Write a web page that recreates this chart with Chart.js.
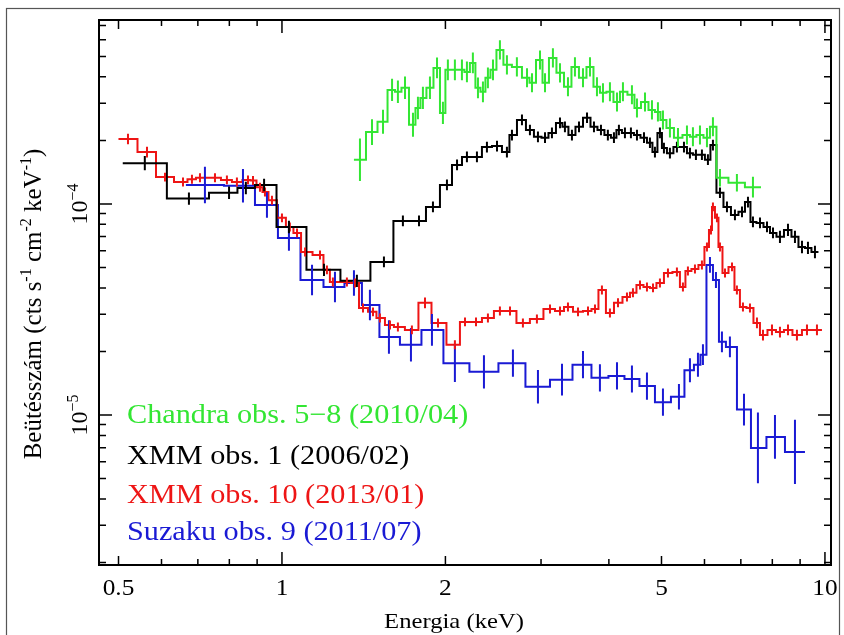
<!DOCTYPE html>
<html>
<head>
<meta charset="utf-8">
<script src="https://cdn.jsdelivr.net/npm/chart.js@4.4.1/dist/chart.umd.min.js"></script>
<style>
  html, body { margin: 0; padding: 0; background: #fff; }
  #wrap { width: 844px; height: 635px; position: relative; }
</style>
</head>
<body>
<div id="wrap"><canvas id="spec" width="844" height="635"></canvas></div>
<script>
// energies in keV, fluxes in cts s-1 cm-2 keV-1, errors as relative half widths
const chandraE = [1.392, 1.465, 1.535, 1.595, 1.635, 1.685, 1.743, 1.780, 1.818, 1.873,
  1.930, 1.979, 2.021, 2.082, 2.145, 2.191, 2.247, 2.296, 2.345, 2.395,
  2.447, 2.520, 2.596, 2.708, 2.827, 2.887, 2.987, 3.051, 3.155, 3.251,
  3.363, 3.464, 3.584, 3.692, 3.803, 3.901, 4.018, 4.140, 4.246, 4.411,
  4.506, 4.662, 4.802, 4.925, 5.031, 5.182, 5.362, 5.570, 5.713, 5.886,
  6.063, 6.219, 6.407, 6.884, 7.369];
const chandraF = [1.62e-4, 2.19e-4, 2.45e-4, 3.47e-4, 3.40e-4, 3.55e-4, 2.37e-4, 2.85e-4, 3.18e-4, 3.55e-4,
  4.41e-4, 2.70e-4, 4.32e-4, 4.32e-4, 4.32e-4, 4.22e-4, 4.66e-4, 3.55e-4, 3.40e-4, 3.96e-4,
  4.32e-4, 5.37e-4, 4.56e-4, 4.46e-4, 3.96e-4, 3.75e-4, 4.81e-4, 3.75e-4, 4.92e-4, 4.18e-4,
  3.59e-4, 4.46e-4, 3.96e-4, 4.46e-4, 3.59e-4, 3.36e-4, 3.40e-4, 3.04e-4, 3.40e-4, 3.29e-4,
  2.85e-4, 3.04e-4, 2.79e-4, 2.73e-4, 2.50e-4, 2.29e-4, 2.06e-4, 2.12e-4, 2.08e-4, 2.12e-4,
  2.06e-4, 2.32e-4, 1.33e-4, 1.26e-4, 1.20e-4];
const chandraErr = [0.26, 0.15, 0.14, 0.13, 0.13, 0.13, 0.14, 0.13, 0.13, 0.13,
  0.12, 0.13, 0.12, 0.12, 0.12, 0.12, 0.12, 0.12, 0.12, 0.12,
  0.12, 0.11, 0.11, 0.11, 0.11, 0.11, 0.11, 0.11, 0.11, 0.11,
  0.11, 0.11, 0.11, 0.11, 0.11, 0.11, 0.11, 0.11, 0.11, 0.11,
  0.11, 0.11, 0.11, 0.11, 0.11, 0.11, 0.11, 0.11, 0.11, 0.11,
  0.11, 0.11, 0.10, 0.10, 0.12];

const xmm1E = [0.559, 0.674, 0.799, 0.858, 0.927, 1.030, 1.195, 1.374, 1.541, 1.670,
  1.788, 1.897, 2.013, 2.101, 2.191, 2.286, 2.385, 2.489, 2.596, 2.652,
  2.767, 2.862, 2.961, 3.051, 3.142, 3.251, 3.320, 3.420, 3.524, 3.646,
  3.755, 3.868, 3.983, 4.087, 4.174, 4.282, 4.392, 4.506, 4.642, 4.761,
  4.863, 4.967, 5.052, 5.182, 5.338, 5.500, 5.641, 5.786, 5.935, 6.088,
  6.219, 6.407, 6.600, 6.827, 7.034, 7.215, 7.369, 7.592, 7.821, 8.022,
  8.263, 8.549, 8.806, 9.072, 9.305, 9.585];
const xmm1F = [1.56e-4, 1.06e-4, 1.13e-4, 1.19e-4, 1.23e-4, 7.78e-5, 4.87e-5, 4.32e-5, 5.31e-5, 8.31e-5,
  8.31e-5, 9.68e-5, 1.23e-4, 1.53e-4, 1.67e-4, 1.67e-4, 1.86e-4, 1.88e-4, 1.76e-4, 2.12e-4,
  2.50e-4, 2.24e-4, 2.08e-4, 2.06e-4, 2.17e-4, 2.42e-4, 2.32e-4, 2.12e-4, 2.32e-4, 2.56e-4,
  2.32e-4, 2.24e-4, 2.12e-4, 2.06e-4, 2.24e-4, 2.17e-4, 2.17e-4, 2.12e-4, 2.06e-4, 1.95e-4,
  1.76e-4, 2.17e-4, 1.84e-4, 1.74e-4, 1.86e-4, 1.86e-4, 1.74e-4, 1.71e-4, 1.71e-4, 1.62e-4,
  1.90e-4, 1.13e-4, 9.68e-5, 8.87e-5, 9.17e-5, 1.02e-4, 8.22e-5, 8.13e-5, 7.78e-5, 7.29e-5,
  6.98e-5, 7.53e-5, 6.98e-5, 6.25e-5, 6.19e-5, 5.92e-5];
const xmm1Err = [0.08, 0.07, 0.07, 0.07, 0.07, 0.07, 0.07, 0.07, 0.06, 0.06,
  0.06, 0.06, 0.06, 0.06, 0.06, 0.06, 0.06, 0.06, 0.06, 0.06,
  0.06, 0.06, 0.06, 0.06, 0.06, 0.06, 0.06, 0.06, 0.06, 0.06,
  0.06, 0.06, 0.06, 0.06, 0.06, 0.06, 0.06, 0.06, 0.06, 0.06,
  0.06, 0.06, 0.06, 0.06, 0.06, 0.06, 0.06, 0.06, 0.06, 0.06,
  0.06, 0.06, 0.06, 0.06, 0.06, 0.06, 0.06, 0.06, 0.06, 0.06,
  0.07, 0.07, 0.07, 0.07, 0.07, 0.07];

const xmm10E = [0.5205, 0.5642, 0.6090, 0.6573, 0.6827, 0.7063, 0.7527, 0.7918, 0.8261, 0.8658,
  0.8844, 0.9110, 0.9304, 0.9585, 1.000, 1.034, 1.066, 1.103, 1.175, 1.210,
  1.241, 1.317, 1.363, 1.410, 1.471, 1.515, 1.581, 1.635, 1.735, 1.834,
  1.938, 2.082, 2.173, 2.277, 2.395, 2.520, 2.630, 2.778, 2.948, 3.116,
  3.251, 3.363, 3.509, 3.661, 3.771, 3.884, 4.018, 4.158, 4.319, 4.430,
  4.564, 4.701, 4.823, 4.967, 5.139, 5.338, 5.476, 5.593, 5.762, 5.935,
  6.063, 6.168, 6.219, 6.326, 6.407, 6.545, 6.743, 6.884, 7.063, 7.276,
  7.495, 7.689, 7.988, 8.263, 8.549, 8.880, 9.266, 9.667];
const xmm10F = [2.03e-4, 1.76e-4, 1.34e-4, 1.27e-4, 1.31e-4, 1.33e-4, 1.33e-4, 1.30e-4, 1.27e-4, 1.30e-4,
  1.29e-4, 1.20e-4, 1.14e-4, 1.04e-4, 8.59e-5, 7.78e-5, 7.29e-5, 5.92e-5, 5.73e-5, 4.87e-5,
  4.27e-5, 4.27e-5, 4.22e-5, 3.21e-5, 3.08e-5, 2.88e-5, 2.67e-5, 2.61e-5, 2.53e-5, 3.40e-5,
  2.73e-5, 2.15e-5, 2.76e-5, 2.76e-5, 2.88e-5, 3.11e-5, 3.11e-5, 2.73e-5, 2.85e-5, 3.18e-5,
  3.11e-5, 3.25e-5, 3.08e-5, 3.11e-5, 3.18e-5, 3.91e-5, 3.04e-5, 3.40e-5, 3.62e-5, 3.79e-5,
  4.13e-5, 4.04e-5, 4.00e-5, 4.22e-5, 4.71e-5, 4.76e-5, 4.04e-5, 4.81e-5, 4.92e-5, 5.14e-5,
  6.25e-5, 7.53e-5, 9.68e-5, 8.59e-5, 6.25e-5, 4.71e-5, 5.03e-5, 3.91e-5, 3.25e-5, 3.21e-5,
  2.73e-5, 2.39e-5, 2.53e-5, 2.47e-5, 2.53e-5, 2.39e-5, 2.53e-5, 2.53e-5];
const xmm10Err = [0.06, 0.06, 0.05, 0.05, 0.05, 0.05, 0.05, 0.05, 0.05, 0.05,
  0.05, 0.05, 0.05, 0.05, 0.05, 0.05, 0.05, 0.05, 0.05, 0.05,
  0.05, 0.05, 0.05, 0.05, 0.05, 0.05, 0.05, 0.05, 0.05, 0.06,
  0.05, 0.05, 0.05, 0.05, 0.05, 0.05, 0.05, 0.05, 0.05, 0.05,
  0.05, 0.05, 0.05, 0.05, 0.05, 0.05, 0.05, 0.05, 0.05, 0.05,
  0.05, 0.05, 0.05, 0.05, 0.05, 0.05, 0.05, 0.05, 0.05, 0.05,
  0.05, 0.05, 0.05, 0.05, 0.05, 0.05, 0.05, 0.05, 0.05, 0.05,
  0.06, 0.06, 0.06, 0.06, 0.06, 0.06, 0.06, 0.06];

const suzakuE = [0.7213, 0.8476, 0.9383, 1.030, 1.136, 1.252, 1.357, 1.452, 1.574, 1.728,
  1.889, 2.082, 2.355, 2.663, 2.961, 3.279, 3.584, 3.851, 4.140, 4.411,
  4.701, 5.031, 5.384, 5.641, 5.836, 5.961, 6.141, 6.299, 6.461, 6.683,
  7.094, 7.526, 8.090, 8.806];
const suzakuF = [1.23e-4, 1.22e-4, 9.89e-5, 6.90e-5, 4.36e-5, 4.04e-5, 4.22e-5, 3.32e-5, 2.34e-5, 2.15e-5,
  2.53e-5, 1.76e-5, 1.60e-5, 1.76e-5, 1.36e-5, 1.47e-5, 1.73e-5, 1.50e-5, 1.53e-5, 1.48e-5,
  1.37e-5, 1.15e-5, 1.22e-5, 1.63e-5, 1.73e-5, 1.93e-5, 5.14e-5, 4.36e-5, 2.22e-5, 2.10e-5,
  1.06e-5, 6.98e-6, 7.87e-6, 6.68e-6];
const suzakuErr = [0.22, 0.20, 0.15, 0.15, 0.18, 0.18, 0.15, 0.18, 0.20, 0.20,
  0.19, 0.23, 0.20, 0.16, 0.20, 0.19, 0.16, 0.16, 0.16, 0.16,
  0.16, 0.16, 0.15, 0.14, 0.14, 0.12, 0.09, 0.09, 0.12, 0.12,
  0.19, 0.47, 0.27, 0.42];

const seriesNames = ['Chandra obs. 5\u22128 (2010/04)', 'XMM obs. 1 (2006/02)', 'XMM obs. 10 (2013/01)', 'Suzaku obs. 9 (2011/07)'];
const seriesColors = ['#33e633', '#000000', '#ee1515', '#1a1ad4'];

const xTickLabels = [0.5, 1, 2, 5, 10];
const xMajorTicks = [1, 10];
const xMinorTicks = [0.5, 0.6, 0.7, 0.8, 0.9, 2, 3, 4, 5, 6, 7, 8, 9];
const yTickExponents = [-4, -5];
const yMajorTicks = [1e-5, 1e-4];
const yMinorTicks = [2e-6, 3e-6, 4e-6, 5e-6, 6e-6, 7e-6, 8e-6, 9e-6,
  2e-5, 3e-5, 4e-5, 5e-5, 6e-5, 7e-5, 8e-5, 9e-5,
  2e-4, 3e-4, 4e-4, 5e-4, 6e-4, 7e-4];

const SERIF = '"Liberation Serif", "Times New Roman", serif';

const series = [
  { e: chandraE, f: chandraF, err: chandraErr },
  { e: xmm1E, f: xmm1F, err: xmm1Err },
  { e: xmm10E, f: xmm10F, err: xmm10Err },
  { e: suzakuE, f: suzakuF, err: suzakuErr }
];

const datasets = series.map(function(s, i) {
  return {
    label: seriesNames[i],
    data: s.e.map(function(v, k) { return { x: v, y: s.f[k] }; }),
    errors: s.err,
    borderColor: seriesColors[i],
    borderWidth: 2,
    pointRadius: 0,
    stepped: 'middle',
    fill: false,
    order: i
  };
});

function stretchedText(ctx, text, x, y, size, color, align, sx) {
  ctx.save();
  ctx.font = size + 'px ' + SERIF;
  ctx.fillStyle = color;
  ctx.textAlign = align;
  ctx.textBaseline = 'alphabetic';
  ctx.translate(x, y);
  ctx.scale(sx, 1);
  ctx.fillText(text, 0, 0);
  ctx.restore();
}

// text with superscripts, rotated to read bottom-to-top, centred on (cx, cy)
function rotatedParts(ctx, parts, cx, cy, base) {
  ctx.save();
  ctx.fillStyle = '#000';
  ctx.textBaseline = 'alphabetic';
  ctx.textAlign = 'left';
  let total = 0;
  parts.forEach(function(p) {
    ctx.font = p[1] + 'px ' + SERIF;
    total += ctx.measureText(p[0]).width;
  });
  ctx.translate(cx, cy);
  ctx.rotate(-Math.PI / 2);
  let x = -total / 2;
  parts.forEach(function(p) {
    ctx.font = p[1] + 'px ' + SERIF;
    ctx.fillText(p[0], x, base - p[2]);
    x += ctx.measureText(p[0]).width;
  });
  ctx.restore();
}

const errorBars = {
  id: 'errorBars',
  afterDatasetsDraw(chart) {
    const ctx = chart.ctx;
    const a = chart.chartArea;
    const ys = chart.scales.y;
    ctx.save();
    ctx.beginPath();
    ctx.rect(a.left, a.top, a.right - a.left, a.bottom - a.top);
    ctx.clip();
    for (let di = chart.data.datasets.length - 1; di >= 0; di--) {
      const ds = chart.data.datasets[di];
      const pts = chart.getDatasetMeta(di).data;
      const n = pts.length;
      ctx.strokeStyle = ds.borderColor;
      ctx.lineWidth = 2;
      ctx.beginPath();
      pts.forEach(function(p, i) {
        const v = ds.data[i].y;
        const e = ds.errors[i];
        ctx.moveTo(p.x, ys.getPixelForValue(v * (1 + e)));
        ctx.lineTo(p.x, ys.getPixelForValue(v / (1 + e)));
      });
      // outer half bins
      ctx.moveTo(pts[0].x - (pts[1].x - pts[0].x) / 2, pts[0].y);
      ctx.lineTo(pts[0].x, pts[0].y);
      ctx.moveTo(pts[n - 1].x, pts[n - 1].y);
      ctx.lineTo(pts[n - 1].x + (pts[n - 1].x - pts[n - 2].x) / 2, pts[n - 1].y);
      ctx.stroke();
    }
    ctx.restore();
  }
};

const frame = {
  id: 'frame',
  beforeDraw(chart) {
    const ctx = chart.ctx;
    ctx.save();
    ctx.fillStyle = '#fff';
    ctx.fillRect(0, 0, chart.width, chart.height);
    ctx.restore();
  },
  afterDraw(chart) {
    const ctx = chart.ctx;
    const a = chart.chartArea;
    const xs = chart.scales.x;
    const ys = chart.scales.y;
    ctx.save();

    // outer border of the figure
    ctx.strokeStyle = '#555';
    ctx.lineWidth = 1.2;
    ctx.strokeRect(6.5, 8.5, 833, 640);

    ctx.strokeStyle = '#000';
    ctx.lineWidth = 2;
    ctx.strokeRect(a.left, a.top, a.right - a.left, a.bottom - a.top);

    ctx.lineWidth = 1.5;
    ctx.beginPath();
    function xTick(v, len) {
      const px = xs.getPixelForValue(v);
      ctx.moveTo(px, a.bottom); ctx.lineTo(px, a.bottom - len);
      ctx.moveTo(px, a.top); ctx.lineTo(px, a.top + len);
    }
    function yTick(v, len) {
      const py = ys.getPixelForValue(v);
      ctx.moveTo(a.left, py); ctx.lineTo(a.left + len, py);
      ctx.moveTo(a.right, py); ctx.lineTo(a.right - len, py);
    }
    xMajorTicks.forEach(function(v) { xTick(v, 13); });
    xMinorTicks.forEach(function(v) { xTick(v, xTickLabels.indexOf(v) >= 0 ? 9 : 6); });
    yMajorTicks.forEach(function(v) { yTick(v, 13); });
    yMinorTicks.forEach(function(v) { yTick(v, 7); });
    ctx.stroke();
    ctx.restore();

    // x tick labels and title
    xTickLabels.forEach(function(v) {
      stretchedText(ctx, String(v), xs.getPixelForValue(v), 595, 23, '#000', 'center', 1.1);
    });
    stretchedText(ctx, 'Energia (keV)', 454, 628, 22, '#000', 'center', 1.12);

    // y tick labels (rotated 10^n)
    yTickExponents.forEach(function(n) {
      const py = ys.getPixelForValue(Math.pow(10, n));
      rotatedParts(ctx, [['10', 24, 0], ['\u2212' + Math.abs(n), 16, 9]], 79, py, 8);
    });

    // y title
    rotatedParts(ctx, [
      ['Beütésszám (cts s', 25, 0], ['-1', 16, 10], [' cm', 25, 0], ['-2', 16, 10],
      [' keV', 25, 0], ['-1', 16, 10], [')', 25, 0]
    ], 33, 304, 8);

    // in-plot legend
    const baselines = [423, 464, 503, 540];
    seriesNames.forEach(function(name, i) {
      stretchedText(ctx, name, 127, baselines[i], 27, seriesColors[i], 'left', 1.12);
    });
  }
};

new Chart(document.getElementById('spec'), {
  type: 'line',
  data: { datasets: datasets },
  options: {
    responsive: false,
    animation: false,
    layout: { padding: { top: 20, right: 13, left: 0, bottom: 0 } },
    plugins: { legend: { display: false }, tooltip: { enabled: false } },
    scales: {
      x: {
        type: 'logarithmic', min: 0.4603, max: 10.26,
        ticks: { display: false }, grid: { display: false }, border: { display: false },
        afterFit: function(s) { s.height = 70; }
      },
      y: {
        type: 'logarithmic', min: 1.945e-6, max: 7.44e-4,
        ticks: { display: false }, grid: { display: false }, border: { display: false },
        afterFit: function(s) { s.width = 99; }
      }
    }
  },
  plugins: [errorBars, frame]
});
</script>
</body>
</html>
